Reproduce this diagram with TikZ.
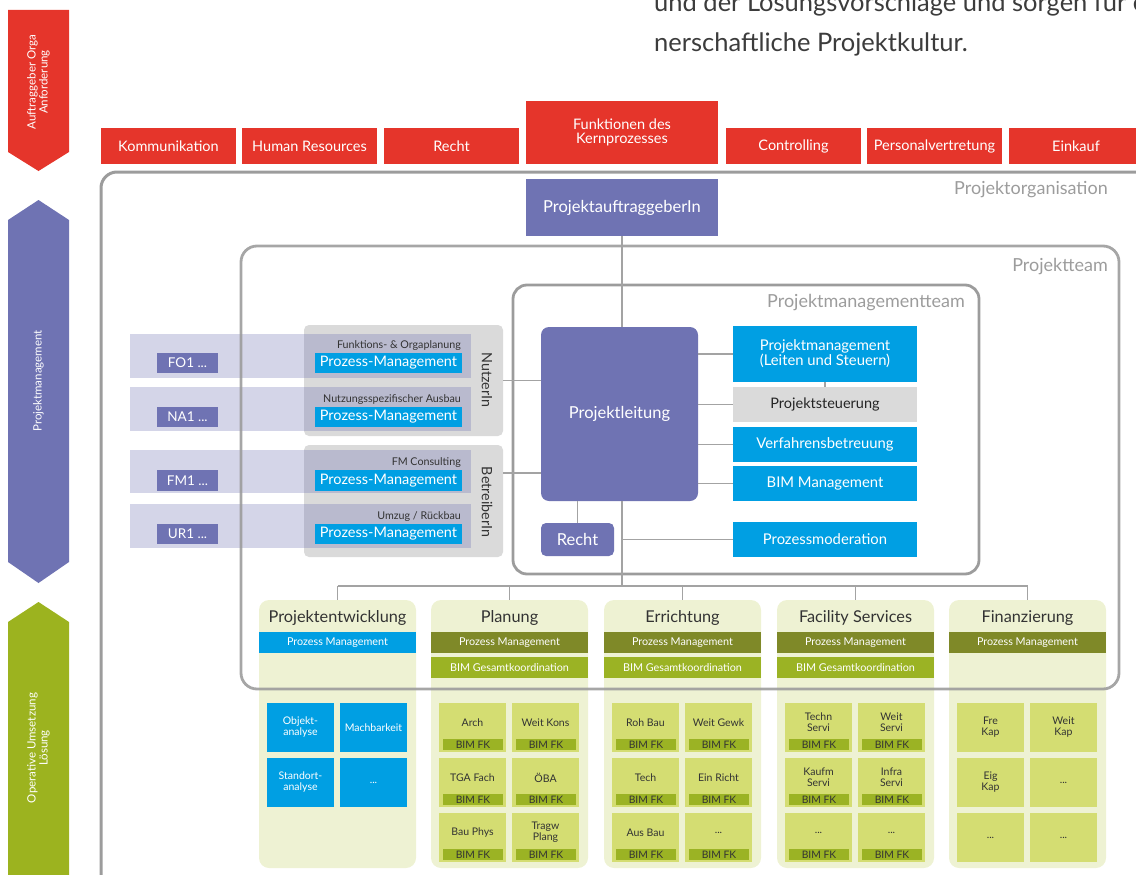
\documentclass[tikz,border=0pt]{standalone}
\usepackage{fontspec}
\setmainfont{Lato}
\definecolor{cred}{HTML}{E5352B}
\definecolor{cpur}{HTML}{6F73B3}
\definecolor{cblue}{HTML}{009FE3}
\definecolor{cgrayb}{HTML}{DADADA}
\definecolor{cframe}{HTML}{9C9C9C}
\definecolor{cline}{HTML}{A3A3A3}
\definecolor{colbg}{HTML}{EEF2D3}
\definecolor{colive}{HTML}{7F8928}
\definecolor{clime}{HTML}{9BB324}
\definecolor{ccell}{HTML}{D4DD72}
\definecolor{ctext}{HTML}{333333}
\definecolor{ctop}{HTML}{3C3C3C}
\definecolor{cgarrow}{HTML}{9CB31F}
\newcommand{\rbox}[7]{\node[#2, minimum width={(#5)-(#3)}, minimum height={(#6)-(#4)}] (#1) at ({((#3)+(#5))/2},{((#4)+(#6))/2}) {#7};}
\newcommand{\fkc}[4]{%
 \rbox{#1}{cellbox}{#2}{#3}{#2+67}{#3+49}{}
 \rbox{#1f}{fkbar}{#2+4}{#3+36}{#2+64}{#3+47}{BIM FK}
 \node[celltxt] (#1t) at ({#2+33.5},{#3+19.5}) {#4};}
\newcommand{\plc}[4]{\rbox{#1}{cellbox,celltxt}{#2}{#3}{#2+67}{#3+49}{#4}}
\newcommand{\blc}[4]{\rbox{#1}{bluebox,celltxt,text=white}{#2}{#3}{#2+67}{#3+49}{#4}}
\tikzset{
 base/.style={inner sep=0pt, outer sep=0pt, align=center},
 redbox/.style={base, fill=cred, text=white, font=\fontsize{14.5}{14}\selectfont},
 purbox/.style={base, fill=cpur, text=white, font=\fontsize{16.5}{16}\selectfont},
 bluebox/.style={base, fill=cblue, text=white, font=\fontsize{14.8}{15}\selectfont},
 graybox/.style={base, fill=cgrayb, rounded corners=5pt},
 band/.style={base, fill=cpur, fill opacity=0.3},
 frame/.style={draw=cframe, line width=2.8pt, rounded corners=16pt},
 conn/.style={draw=cline, line width=1.8pt},
 lbl/.style={text=cframe, font=\fontsize{18}{18}\selectfont, inner sep=0pt},
 arrowtxt/.style={text=white, font=\fontsize{11.5}{12}\selectfont, align=center, rotate=90, inner sep=0pt},
 small/.style={text=ctext, font=\fontsize{10.7}{11}\selectfont, inner sep=0pt},
 colbox/.style={base, fill=colbg, rounded corners=10pt},
 ttl/.style={text=ctext, font=\fontsize{16.3}{17}\selectfont, inner sep=0pt},
 strip/.style={base, text=white, font=\fontsize{10.8}{11}\selectfont},
 cellbox/.style={base, fill=ccell},
 fkbar/.style={base, fill=clime, text=ctext, font=\fontsize{10.3}{10}\selectfont},
 celltxt/.style={text=ctext, font=\fontsize{10.5}{11}\selectfont, align=center, inner sep=0pt},
 pmtag/.style={bluebox, font=\fontsize{14.5}{14}\selectfont},
 idtag/.style={purbox, font=\fontsize{13.5}{13}\selectfont},
 sidetxt/.style={text=ctext, font=\fontsize{14.3}{14}\selectfont, rotate=-90, inner sep=0pt},
 toptxt/.style={anchor=base west, text=ctop, font=\fontsize{25.5}{26}\selectfont, inner sep=0pt},
}
\begin{document}
\begin{tikzpicture}[x=1pt,y=-1pt]
\useasboundingbox (0,0) rectangle (1136,875);
\clip (0,0) rectangle (1136,875);
% left arrows
\fill[cred] (8,10) -- (69,10) -- (69,152) -- (38.5,171) -- (8,152) -- cycle;
\node[arrowtxt] (a1) at (38.5,82) {Auftraggeber Orga\\Anforderung};
\fill[cpur] (38.5,200) -- (69,220) -- (69,562) -- (38.5,583) -- (8,562) -- (8,220) -- cycle;
\node[arrowtxt] (a2) at (38.5,381) {Projektmanagement};
\fill[cgarrow] (38.5,602) -- (69,622) -- (69,890) -- (8,890) -- (8,622) -- cycle;
\node[arrowtxt] (a3) at (38.5,748) {Operative Umsetzung\\Lösung};
% top text
\node[toptxt] (tx1) at (654,12) {und der Lösungsvorschläge und sorgen für eine};
\node[toptxt] (tx2) at (654,52) {nerschaftliche Projektkultur.};
% red boxes
\rbox{kom}{redbox}{101}{128}{236}{164}{Kommunikation}
\rbox{hr}{redbox}{242}{128}{377}{164}{Human Resources}
\rbox{re}{redbox}{384}{128}{519}{164}{Recht}
\rbox{fk}{redbox}{526}{101}{718}{164}{Funktionen des\\Kernprozesses}
\rbox{con}{redbox}{726}{128}{861}{164}{Controlling}
\rbox{pv}{redbox}{867}{128}{1002}{164}{Personalvertretung}
\rbox{ek}{redbox}{1009}{128}{1143}{164}{Einkauf}
% outer frame
\draw[frame, line width=3pt] (101,172) rectangle (1150,900);
\node[lbl, anchor=east] (lpo) at (1108,190) {Projektorganisation};
\rbox{pag}{purbox}{526}{179}{718}{236}{ProjektauftraggeberIn}
% left user area
\rbox{nutz}{graybox}{304}{325}{503}{436}{}
\rbox{betr}{graybox}{304}{445}{503}{557}{}
\node[sidetxt] (nutzt) at (487,380) {NutzerIn};
\node[sidetxt] (betrt) at (487,502) {BetreiberIn};
\rbox{b1}{band}{130}{334}{471}{378}{}
\rbox{b2}{band}{130}{387}{471}{431}{}
\rbox{b3}{band}{130}{450}{471}{493}{}
\rbox{b4}{band}{130}{504}{471}{548}{}
\rbox{fo}{idtag}{157}{353}{218}{373}{FO1 ...}
\rbox{na}{idtag}{157}{407}{218}{427}{NA1 ...}
\rbox{fm}{idtag}{157}{470}{218}{491}{FM1 ...}
\rbox{ur}{idtag}{157}{524}{218}{544}{UR1 ...}
\rbox{pm1}{pmtag}{315}{353}{462}{373}{Prozess-Management}
\rbox{pm2}{pmtag}{315}{407}{462}{427}{Prozess-Management}
\rbox{pm3}{pmtag}{315}{470}{462}{491}{Prozess-Management}
\rbox{pm4}{pmtag}{315}{524}{462}{544}{Prozess-Management}
\node[small, anchor=base east] (s1) at (461,348) {Funktions- \& Orgaplanung};
\node[small, anchor=base east] (s2) at (461,402) {Nutzungsspezifischer Ausbau};
\node[small, anchor=base east] (s3) at (461,465) {FM Consulting};
\node[small, anchor=base east] (s4) at (461,519) {Umzug / Rückbau};
% columns
\rbox{c1}{colbox}{259}{600}{416}{868}{}
\rbox{c2}{colbox}{431}{600}{588}{868}{}
\rbox{c3}{colbox}{604}{600}{761}{868}{}
\rbox{c4}{colbox}{777}{600}{934}{868}{}
\rbox{c5}{colbox}{949}{600}{1106}{868}{}
\node[ttl] (c1t) at (c1.north |- 0,618) {Projektentwicklung};
\node[ttl] (c2t) at (c2.north |- 0,618) {Planung};
\node[ttl] (c3t) at (c3.north |- 0,618) {Errichtung};
\node[ttl] (c4t) at (c4.north |- 0,618) {Facility Services};
\node[ttl] (c5t) at (c5.north |- 0,618) {Finanzierung};
\rbox{c1p}{strip,fill=cblue}{259}{632}{416}{653}{Prozess Management}
\rbox{c2p}{strip,fill=colive}{431}{632}{588}{653}{Prozess Management}
\rbox{c3p}{strip,fill=colive}{604}{632}{761}{653}{Prozess Management}
\rbox{c4p}{strip,fill=colive}{777}{632}{934}{653}{Prozess Management}
\rbox{c5p}{strip,fill=colive}{949}{632}{1106}{653}{Prozess Management}
\rbox{c2b}{strip,fill=clime}{431}{657}{588}{678}{BIM Gesamtkoordination}
\rbox{c3b}{strip,fill=clime}{604}{657}{761}{678}{BIM Gesamtkoordination}
\rbox{c4b}{strip,fill=clime}{777}{657}{934}{678}{BIM Gesamtkoordination}
% cells col1
\blc{e11}{267}{703}{Objekt-\\analyse}
\blc{e12}{340}{703}{Machbarkeit}
\blc{e21}{267}{758}{Standort-\\analyse}
\blc{e22}{340}{758}{...}
% col2
\fkc{p11}{439}{703}{Arch}
\fkc{p12}{512}{703}{Weit Kons}
\fkc{p21}{439}{758}{TGA Fach}
\fkc{p22}{512}{758}{ÖBA}
\fkc{p31}{439}{813}{Bau Phys}
\fkc{p32}{512}{813}{Tragw\\Plang}
% col3
\fkc{r11}{612}{703}{Roh Bau}
\fkc{r12}{685}{703}{Weit Gewk}
\fkc{r21}{612}{758}{Tech}
\fkc{r22}{685}{758}{Ein Richt}
\fkc{r31}{612}{813}{Aus Bau}
\fkc{r32}{685}{813}{...}
% col4
\fkc{f11}{785}{703}{Techn\\Servi}
\fkc{f12}{858}{703}{Weit\\Servi}
\fkc{f21}{785}{758}{Kaufm\\Servi}
\fkc{f22}{858}{758}{Infra\\Servi}
\fkc{f31}{785}{813}{...}
\fkc{f32}{858}{813}{...}
% col5
\plc{n11}{957}{703}{Fre\\Kap}
\plc{n12}{1030}{703}{Weit\\Kap}
\plc{n21}{957}{758}{Eig\\Kap}
\plc{n22}{1030}{758}{...}
\plc{n31}{957}{813}{...}
\plc{n32}{1030}{813}{...}
% frames
\draw[frame, draw opacity=0.9] (241,246) rectangle (1119,689);
\node[lbl, anchor=east] (lpt) at (1108,267) {Projektteam};
\draw[frame, rounded corners=14pt] (513,285) rectangle (979,574);
\node[lbl, anchor=east] (lpmt) at (965,303) {Projektmanagementteam};
% PM team
\rbox{pl}{purbox,rounded corners=8pt}{541}{327}{698}{501}{Projektleitung}
\rbox{rec}{purbox,rounded corners=5pt}{541}{523}{614}{556}{Recht}
\rbox{pmg}{bluebox}{733}{326}{917}{382}{Projektmanagement\\(Leiten und Steuern)}
\rbox{pst}{base,fill=cgrayb,text=ctext!70!black,font=\fontsize{14.5}{15}\selectfont}{733}{387}{917}{422}{Projektsteuerung}
\rbox{vfb}{bluebox}{733}{427}{917}{462}{Verfahrensbetreuung}
\rbox{bim}{bluebox}{733}{466}{917}{501}{BIM Management}
\rbox{pmod}{bluebox}{733}{522}{917}{557}{Prozessmoderation}
\coordinate (bar) at (622,586);
% connectors
\draw[conn] (pag.south) -- (pag.south |- pl.north);
\draw[conn] (pag.south |- pl.south) -- (bar);
\draw[conn] (rec.north) -- (rec.north |- pl.south);
\draw[conn] (pmg.west) -- (pmg.west -| pl.east);
\draw[conn] (pst.west) -- (pst.west -| pl.east);
\draw[conn] (vfb.west) -- (vfb.west -| pl.east);
\draw[conn] (bim.west) -- (bim.west -| pl.east);
\draw[conn] (pmg.south) -- (pst.north);
\draw[conn] (pmod.west) -- (pmod.west -| bar);
\draw[conn] (nutz.east) -- (nutz.east -| pl.west);
\draw[conn] ([yshift=28pt]betr.east) -- ([yshift=28pt]betr.east -| pl.west);
\draw[conn] (c1.north |- bar) -- (c5.north |- bar);
\foreach \c in {c1,c2,c3,c4,c5} \draw[conn] (\c.north |- bar) -- (\c.north);
\end{tikzpicture}
\end{document}
